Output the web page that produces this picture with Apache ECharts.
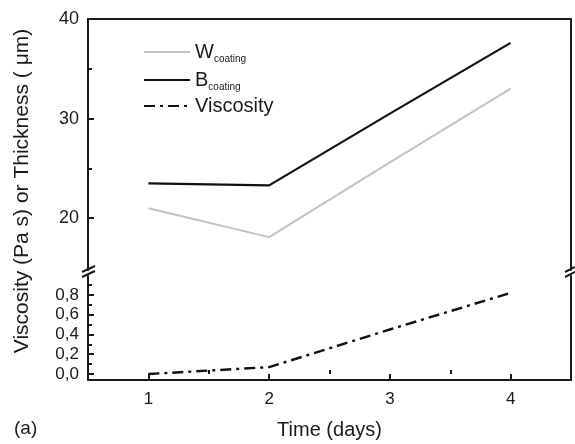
<!DOCTYPE html>
<html lang="en">
<head>
    <meta charset="UTF-8">
    <title>Viscosity / Thickness vs Time</title>
    <script src="https://cdn.jsdelivr.net/npm/echarts@6/dist/echarts.min.js"></script>
    <style>
        html, body { margin: 0; padding: 0; background: #fff; }
    </style>
</head>
<body>
    <div id="chart" style="width:575px; height:444px;"></div>
    <script>
        // data
        var days = [1, 2, 3, 4];
        var wCoating = [21.0, 18.1, 25.6, 33.0];
        var bCoating = [23.5, 23.3, 30.5, 37.6];
        var viscosity = [0.0, 0.07, 0.45, 0.82];

        var xLabels = [1, 2, 3, 4];
        var xMinor = [1.5, 2.5, 3.5];
        var upperLabels = [20, 30, 40];
        var upperMinor = [25, 35];
        var lowerLabels = [0, 0.2, 0.4, 0.6, 0.8];
        var lowerMinor = [0.1, 0.3, 0.5, 0.7, 0.9];

        function pairs(vals) {
            return days.map(function (d, i) { return [d, vals[i]]; });
        }

        var FONT = '"Liberation Sans", Arial, sans-serif';
        var INK = '#1a1a1a';
        var lineAxis = { show: true, onZero: false, lineStyle: { color: INK, width: 2 } };

        var chart = echarts.init(document.getElementById('chart'));

        chart.setOption({
            animation: false,
            textStyle: { fontFamily: FONT },
            grid: [
                { left: 88, right: 4, top: 19, height: 251 },
                { left: 88, right: 4, top: 276, height: 104 }
            ],
            legend: {
                orient: 'vertical',
                left: 138,
                top: 35,
                itemWidth: 46,
                itemHeight: 14,
                itemGap: 4,
                itemStyle: { opacity: 0 },
                data: ['W', 'B', 'Viscosity'],
                formatter: function (name) {
                    if (name === 'Viscosity') return '{m|Viscosity}';
                    return '{m|' + name + '}{s|coating}';
                },
                textStyle: {
                    color: INK,
                    rich: {
                        m: { fontSize: 20, fontFamily: FONT, color: INK, lineHeight: 24 },
                        s: { fontSize: 10, fontFamily: FONT, color: INK, lineHeight: 24, padding: [14, 0, 0, 0] }
                    }
                }
            },
            xAxis: [
                {
                    gridIndex: 0, type: 'value', position: 'top', min: 0.5, max: 4.5,
                    axisLine: lineAxis, axisTick: { show: false }, axisLabel: { show: false },
                    splitLine: { show: false }
                },
                {
                    gridIndex: 1, type: 'value', position: 'bottom', min: 0.5, max: 4.5,
                    axisLine: lineAxis,
                    axisTick: { inside: true, length: 6, customValues: xLabels, lineStyle: { color: INK, width: 2 } },
                    axisLabel: { customValues: xLabels, fontSize: 17, color: INK, margin: 11 },
                    splitLine: { show: false },
                    name: 'Time (days)', nameLocation: 'middle', nameGap: 40,
                    nameTextStyle: { fontSize: 20, color: INK, fontFamily: FONT }
                },
                {
                    gridIndex: 1, type: 'value', position: 'bottom', min: 0.5, max: 4.5,
                    axisLine: { show: false },
                    axisTick: { inside: true, length: 4, customValues: xMinor, lineStyle: { color: INK, width: 2 } },
                    axisLabel: { show: false }, splitLine: { show: false }
                }
            ],
            yAxis: [
                {
                    gridIndex: 0, type: 'value', position: 'left', min: 14.8, max: 40,
                    axisLine: lineAxis,
                    axisTick: { inside: true, length: 6, customValues: upperLabels, lineStyle: { color: INK, width: 2 } },
                    axisLabel: { customValues: upperLabels, fontSize: 18, color: INK, margin: 9 },
                    splitLine: { show: false }
                },
                {
                    gridIndex: 0, type: 'value', position: 'left', min: 14.8, max: 40,
                    axisLine: { show: false },
                    axisTick: { inside: true, length: 4, customValues: upperMinor, lineStyle: { color: INK, width: 2 } },
                    axisLabel: { show: false }, splitLine: { show: false }
                },
                {
                    gridIndex: 0, type: 'value', position: 'right', min: 14.8, max: 40,
                    axisLine: lineAxis, axisTick: { show: false }, axisLabel: { show: false },
                    splitLine: { show: false }
                },
                {
                    gridIndex: 1, type: 'value', position: 'left', min: -0.06, max: 0.99,
                    axisLine: lineAxis,
                    axisTick: { inside: true, length: 6, customValues: lowerLabels, lineStyle: { color: INK, width: 2 } },
                    axisLabel: {
                        customValues: lowerLabels, fontSize: 17, color: INK, margin: 9,
                        formatter: function (v) { return v.toFixed(1).replace('.', ','); }
                    },
                    splitLine: { show: false }
                },
                {
                    gridIndex: 1, type: 'value', position: 'left', min: -0.06, max: 0.99,
                    axisLine: { show: false },
                    axisTick: { inside: true, length: 4, customValues: lowerMinor, lineStyle: { color: INK, width: 2 } },
                    axisLabel: { show: false }, splitLine: { show: false }
                },
                {
                    gridIndex: 1, type: 'value', position: 'right', min: -0.06, max: 0.99,
                    axisLine: lineAxis, axisTick: { show: false }, axisLabel: { show: false },
                    splitLine: { show: false }
                }
            ],
            series: [
                {
                    name: 'W', type: 'line', xAxisIndex: 0, yAxisIndex: 0,
                    symbol: 'none', data: pairs(wCoating),
                    lineStyle: { color: '#c4c4c4', width: 2 }, itemStyle: { color: '#c4c4c4' }
                },
                {
                    name: 'B', type: 'line', xAxisIndex: 0, yAxisIndex: 0,
                    symbol: 'none', data: pairs(bCoating),
                    lineStyle: { color: '#111', width: 2.2 }, itemStyle: { color: '#111' }
                },
                {
                    name: 'Viscosity', type: 'line', xAxisIndex: 1, yAxisIndex: 3,
                    symbol: 'none', data: pairs(viscosity),
                    lineStyle: { color: '#111', width: 2.4, type: [11, 5, 3, 5] }, itemStyle: { color: '#111' }
                }
            ],
            graphic: [
                // axis break marks
                { type: 'line', shape: { x1: 82, y1: 272, x2: 95, y2: 266 }, style: { stroke: INK, lineWidth: 2 } },
                { type: 'line', shape: { x1: 82, y1: 277, x2: 95, y2: 271 }, style: { stroke: INK, lineWidth: 2 } },
                { type: 'line', shape: { x1: 565, y1: 272, x2: 575, y2: 267 }, style: { stroke: INK, lineWidth: 2 } },
                { type: 'line', shape: { x1: 565, y1: 277, x2: 575, y2: 272 }, style: { stroke: INK, lineWidth: 2 } },
                {
                    type: 'text', x: 22, y: 191, rotation: Math.PI / 2,
                    style: {
                        text: 'Viscosity (Pa s) or Thickness ( \u03bcm)',
                        font: '21px ' + FONT, fill: INK, align: 'center', verticalAlign: 'middle'
                    }
                },
                {
                    type: 'text', left: 14, top: 419,
                    style: { text: '(a)', font: '19px ' + FONT, fill: INK }
                }
            ]
        });
    </script>
</body>
</html>
